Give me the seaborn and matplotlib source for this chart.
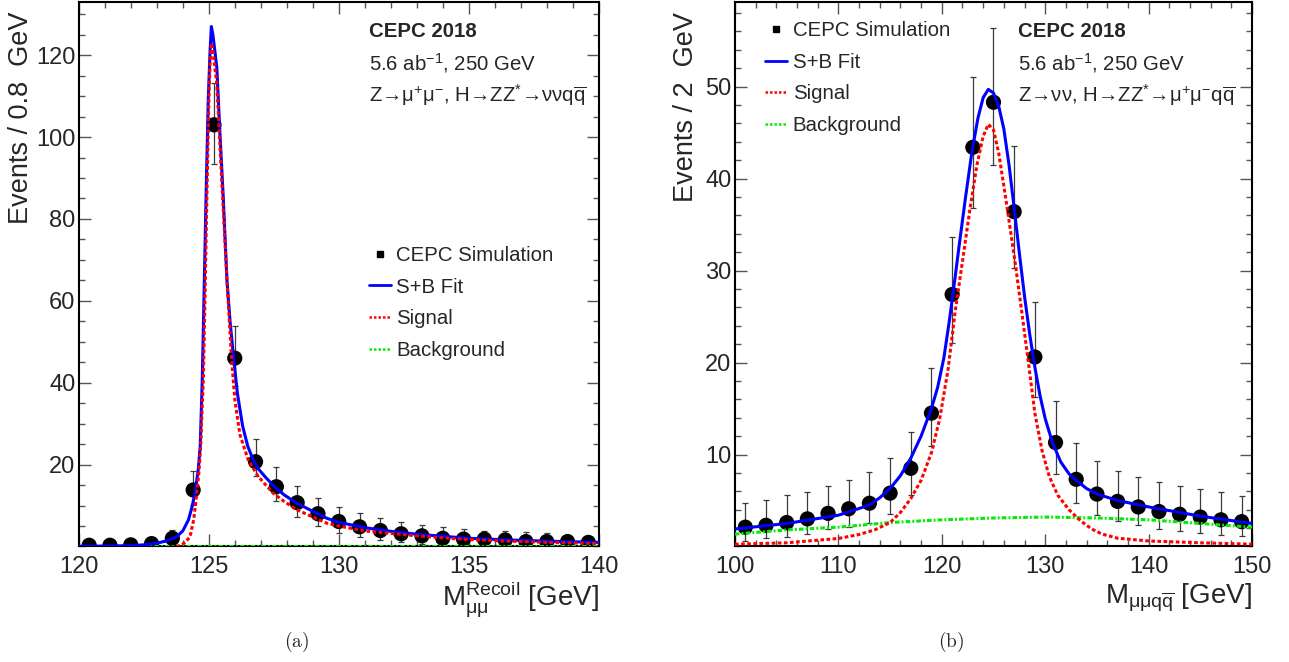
import matplotlib
matplotlib.use("Agg")
import matplotlib.pyplot as plt
import seaborn as sns
from matplotlib.lines import Line2D
from matplotlib.ticker import MultipleLocator

# ---- panel (a): recoil mass, 0.8 GeV bins ----
xa_pts = [120.4, 121.2, 122.0, 122.8, 123.6, 124.4, 125.2, 126.0, 126.8, 127.6, 128.4, 129.2, 130.0,
          130.8, 131.6, 132.4, 133.2, 134.0, 134.8, 135.6, 136.4, 137.2, 138.0, 138.8, 139.6]
ya_pts = [0.3, 0.3, 0.4, 0.7, 2.0, 13.8, 103.0, 46.0, 20.7, 14.6, 10.7, 8.0, 6.1,
          4.8, 3.9, 3.1, 2.6, 2.0, 1.8, 1.8, 1.6, 1.2, 1.2, 1.2, 1.0]
ya_lo = [0.3, 0.3, 0.4, 0.7, 1.3, 3.6, 9.5, 6.8, 3.6, 3.5, 3.4, 3.0, 2.7,
         2.5, 2.3, 2.0, 1.9, 1.7, 1.5, 1.4, 1.3, 1.1, 1.1, 1.0, 0.9]
ya_hi = [0.5, 0.5, 0.6, 1.7, 2.1, 4.7, 10.2, 7.8, 5.5, 4.9, 4.0, 3.9, 3.6,
         3.4, 3.1, 2.8, 2.6, 2.8, 2.5, 2.1, 2.1, 2.3, 2.1, 1.6, 1.5]

xa_fit = [120.0, 121.0, 122.0, 122.5, 123.0, 123.4, 123.77, 124.0, 124.22, 124.35, 124.47, 124.6,
          124.67, 124.75, 124.83, 124.9, 124.98, 125.05, 125.1, 125.16, 125.31, 125.43, 125.56,
          125.7, 125.82, 125.95, 126.1, 126.3, 126.5, 126.7, 126.9, 127.2, 127.5, 127.9,
          128.38, 129.0, 129.54, 130.0, 131.0, 132.0, 133.0, 134.0, 135.0, 136.5, 138.0, 140.0]
ya_fit = [0.05, 0.1, 0.2, 0.4, 0.8, 1.4, 2.4, 3.8, 6.5, 9.5, 13.0, 19.0,
          24.4, 40.7, 65.0, 86.6, 109.0, 121.0, 127.0, 125.0, 117.0, 101.0, 85.0,
          65.0, 55.0, 46.5, 37.5, 29.5, 24.5, 21.3, 19.0, 16.8, 14.8, 12.6,
          10.6, 8.6, 6.9, 5.9, 4.6, 3.7, 3.0, 2.5, 2.0, 1.6, 1.3, 1.0]

xa_sig = [120.0, 122.0, 123.0, 123.6, 123.9, 124.1, 124.28, 124.42, 124.54, 124.62, 124.69, 124.79,
          124.86, 124.93, 125.0, 125.05, 125.1, 125.16, 125.31, 125.43, 125.56, 125.72, 125.88,
          126.01, 126.2, 126.52, 126.9, 127.48, 127.9, 128.38, 129.0, 129.54, 130.0, 131.0,
          132.0, 133.0, 134.0, 135.0, 136.5, 138.0, 140.0]
ya_sig = [-0.3, -0.3, -0.3, -0.2, 0.2, 1.0, 2.4, 6.5, 13.0, 18.0, 24.4, 40.7,
          62.0, 86.0, 108.0, 118.0, 123.0, 121.0, 113.0, 98.0, 82.0, 63.0, 45.5,
          35.5, 27.3, 21.1, 17.1, 13.0, 11.0, 9.0, 7.2, 5.7, 5.0, 3.8,
          3.2, 2.6, 2.1, 1.7, 1.3, 1.0, 0.7]

xa_bkg = [120.0, 125.0, 130.0, 135.0, 140.0]
ya_bkg = [0.15, 0.15, 0.15, 0.15, 0.15]

# ---- panel (b): mu mu q qbar mass, 2 GeV bins ----
xb_pts = [101, 103, 105, 107, 109, 111, 113, 115, 117, 119, 121, 123, 125,
          127, 129, 131, 133, 135, 137, 139, 141, 143, 145, 147, 149]
yb_pts = [2.1, 2.3, 2.6, 3.0, 3.6, 4.1, 4.7, 5.8, 8.5, 14.5, 27.4, 43.4, 48.3,
          36.4, 20.6, 11.3, 7.3, 5.7, 4.9, 4.3, 3.8, 3.5, 3.2, 2.9, 2.7]
yb_lo = [1.5, 1.4, 1.55, 1.6, 1.75, 2.0, 2.1, 2.3, 2.9, 3.6, 5.3, 6.6, 6.8,
         6.1, 4.4, 3.4, 2.6, 2.3, 2.1, 2.0, 1.9, 1.8, 1.7, 1.6, 1.6]
yb_hi = [2.6, 2.8, 3.0, 2.9, 3.0, 3.1, 3.4, 3.8, 4.0, 4.9, 6.3, 7.6, 8.1,
         7.1, 6.0, 4.5, 3.9, 3.6, 3.3, 3.3, 3.2, 3.1, 3.0, 3.0, 2.8]

xb_fit = [100, 105, 110, 113, 114, 115, 116, 117, 118, 119, 119.6, 120.2, 120.7, 121.2, 121.7,
          122.3, 122.9, 123.5, 124.0, 124.5, 125.0, 125.5, 126.0, 126.5, 127.0, 127.5, 128.0,
          128.5, 129.0, 129.5, 130.0, 130.7, 131.5, 132.3, 133.0, 134.0, 135, 137, 140, 145, 150]
yb_fit = [1.9, 2.5, 3.4, 4.5, 5.3, 6.3, 7.7, 9.6, 12.0, 15.0, 17.3, 20.5, 24.3, 28.5, 32.9,
          38.0, 42.8, 46.6, 48.8, 49.7, 49.3, 47.9, 45.4, 41.5, 36.8, 31.9, 27.2,
          23.1, 19.5, 16.4, 13.9, 11.3, 9.2, 7.9, 7.2, 6.3, 5.7, 5.0, 4.3, 3.3, 2.5]

xb_sig = [100, 105, 110, 112, 113.5, 115, 116, 117, 118, 119, 119.8, 120.6, 121.3, 122.0,
          122.7, 123.4, 124.0, 124.5, 125.0, 125.5, 126.0, 126.4, 127.1, 127.7, 128.4, 129.0,
          129.7, 130.4, 131.2, 132.3, 133.4, 134.5, 135.5, 137, 140, 145, 150]
yb_sig = [0.25, 0.4, 0.87, 1.3, 1.8, 2.6, 3.7, 5.2, 7.2, 10.2, 13.9, 19.2, 25.6, 31.0,
          36.5, 41.5, 44.6, 45.9, 45.3, 42.8, 39.2, 36.2, 30.8, 25.8, 19.8, 14.5,
          10.4, 7.6, 5.6, 4.0, 2.8, 1.9, 1.35, 0.9, 0.6, 0.4, 0.25]

xb_bkg = [100, 105, 110, 115, 120, 125, 130, 135, 140, 145, 150]
yb_bkg = [1.35, 1.8, 2.1, 2.6, 2.9, 3.1, 3.2, 3.1, 2.9, 2.5, 2.1]

sns.set_theme(style="ticks")
plt.rcParams['font.family'] = ['Liberation Sans', 'DejaVu Sans']
plt.rcParams['mathtext.fontset'] = 'custom'
plt.rcParams['mathtext.rm'] = 'Liberation Sans'
plt.rcParams['mathtext.it'] = 'Liberation Sans:italic'
plt.rcParams['mathtext.bf'] = 'Liberation Sans:bold'

BLUE, RED, GREEN = '#0000ff', '#ff0000', '#00ee00'


def draw_panel(ax, pts, lo, hi, fit, sig, bkg, xlim, ylim, xmaj, xmin, ymaj, ymin,
               xlabel, ylabel, ylab_x, txt_x, info, leg_anchor):
    x, y = pts
    ax.errorbar(x, y, yerr=[lo, hi], fmt='none', ecolor='#3a3a3a', elinewidth=0.9,
                capsize=2, capthick=0.9, zorder=2)
    sns.scatterplot(x=x, y=y, ax=ax, color='black', s=120, edgecolor='none',
                    zorder=3, legend=False)
    sns.lineplot(x=bkg[0], y=bkg[1], ax=ax, color=GREEN, lw=2.2, sort=False, estimator=None,
                 linestyle=(0, (1.5, 0.7, 0.6, 0.7)), zorder=4)
    sns.lineplot(x=sig[0], y=sig[1], ax=ax, color=RED, lw=2.2, sort=False, estimator=None,
                 linestyle=(0, (1.2, 0.8)), zorder=5)
    sns.lineplot(x=fit[0], y=fit[1], ax=ax, color=BLUE, lw=2.2, sort=False, estimator=None,
                 zorder=4.5)

    ax.set_xlim(*xlim)
    ax.set_ylim(*ylim)
    ax.set_xticks(xmaj)
    ax.xaxis.set_minor_locator(MultipleLocator(xmin))
    ax.set_yticks(ymaj)
    ax.yaxis.set_minor_locator(MultipleLocator(ymin))
    ax.tick_params(which='both', direction='in', top=True, right=True, color='#555555')
    ax.tick_params(which='major', length=8.6, width=1.0, labelsize=17)
    ax.tick_params(which='minor', length=4.3, width=1.0)
    ax.tick_params(axis='x', pad=7)
    ax.tick_params(axis='y', pad=2.5)
    for sp in ax.spines.values():
        sp.set_linewidth(1.5)
        sp.set_color('black')

    ax.set_xlabel(xlabel, fontsize=20, loc='right', va='center')
    ax.xaxis.set_label_coords(1.0, -0.096)
    ax.set_ylabel(ylabel, fontsize=19.5, loc='top', va='center')
    ax.yaxis.set_label_coords(ylab_x, 0.982)

    ax.text(txt_x, 0.945, 'CEPC 2018', transform=ax.transAxes, fontsize=14.7,
            fontweight='bold', va='center', ha='left')
    ax.text(txt_x, 0.887, r'5.6 ab$\mathregular{^{-1}}$, 250 GeV', transform=ax.transAxes,
            fontsize=14.7, va='center', ha='left')
    ax.text(txt_x, 0.828, info, transform=ax.transAxes, fontsize=14.7, va='center', ha='left')

    handles = [Line2D([], [], marker='s', color='black', ls='none', markersize=4.5),
               Line2D([], [], color=BLUE, lw=2.0),
               Line2D([], [], color=RED, lw=1.8, ls=(0, (1, 0.8))),
               Line2D([], [], color=GREEN, lw=1.8, ls=(0, (1, 0.8)))]
    ax.legend(handles, ['CEPC Simulation', 'S+B Fit', 'Signal', 'Background'],
              loc='upper left', bbox_to_anchor=leg_anchor, frameon=False, fontsize=14.7,
              handlelength=1.1, handletextpad=0.25, labelspacing=0.62,
              borderpad=0, borderaxespad=0)


fig = plt.figure(figsize=(12.89, 6.62), dpi=100)
ax_a = fig.add_axes([0.0611, 0.1745, 0.4034, 0.8225])
ax_b = fig.add_axes([0.5702, 0.1745, 0.4011, 0.8225])

draw_panel(ax_a, (xa_pts, ya_pts), ya_lo, ya_hi, (xa_fit, ya_fit), (xa_sig, ya_sig),
           (xa_bkg, ya_bkg), (120, 140), (0, 133), [120, 125, 130, 135, 140], 1,
           [20, 40, 60, 80, 100, 120], 5,
           r'$\mathregular{M^{Recoil}_{μμ}}$ [GeV]', 'Events / 0.8  GeV', -0.112, 0.558,
           r'Z→$\mathregular{μ^{+}μ^{-}}$, H→ZZ$\mathregular{^{*}}$→ννq$\mathregular{\overline{q}}$',
           (0.558, 0.552))

draw_panel(ax_b, (xb_pts, yb_pts), yb_lo, yb_hi, (xb_fit, yb_fit), (xb_sig, yb_sig),
           (xb_bkg, yb_bkg), (100, 150), (0, 59.2), [100, 110, 120, 130, 140, 150], 2,
           [10, 20, 30, 40, 50], 2,
           r'$\mathregular{M_{μμq\overline{q}}}$ [GeV]', 'Events / 2  GeV', -0.094, 0.548,
           r'Z→νν, H→ZZ$\mathregular{^{*}}$→$\mathregular{μ^{+}μ^{-}}$q$\mathregular{\overline{q}}$',
           (0.058, 0.965))

fig.text(297 / 1289, 1 - 642 / 662, r'$\mathrm{(a)}$', math_fontfamily='cm',
         fontsize=14, ha='center', va='center')
fig.text(951 / 1289, 1 - 642 / 662, r'$\mathrm{(b)}$', math_fontfamily='cm',
         fontsize=14, ha='center', va='center')

fig.savefig('out.png', dpi=100)
